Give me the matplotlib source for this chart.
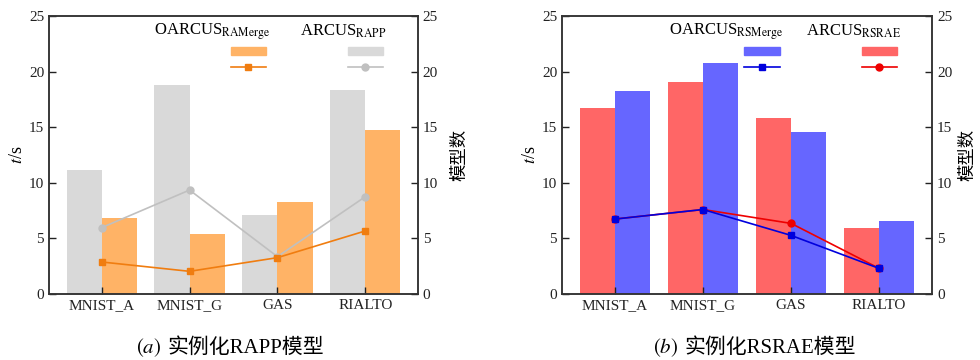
import numpy as np
import matplotlib
matplotlib.use("Agg")
import matplotlib.pyplot as plt
from matplotlib.patches import Rectangle

plt.rcParams['font.family'] = ['Liberation Serif', 'Noto Sans CJK SC']
plt.rcParams['mathtext.fontset'] = 'stix'

# donnees
categories = ["MNIST_A", "MNIST_G", "GAS", "RIALTO"]

# (a) RAPP
temps_arcus_rapp = [11.15, 18.8, 7.1, 18.35]
temps_oarcus_ramerge = [6.8, 5.37, 8.3, 14.75]
modeles_arcus_rapp = [5.97, 9.35, 3.36, 8.75]
modeles_oarcus_ramerge = [2.88, 2.04, 3.27, 5.67]

# (b) RSRAE
temps_arcus_rsrae = [16.7, 19.1, 15.8, 5.9]
temps_oarcus_rsmerge = [18.25, 20.75, 14.55, 6.6]
modeles_arcus_rsrae = [6.74, 7.6, 6.35, 2.3]
modeles_oarcus_rsmerge = [6.74, 7.6, 5.27, 2.3]

fig = plt.figure(figsize=(9.8, 3.6), dpi=100)
spine_col = '#333333'


def panneau(rect, t_arcus, t_oarcus, m_arcus, m_oarcus, c_bar_a, c_bar_o,
            c_line_a, c_line_o, lab_o, lab_a, lettre, caption, cap_x, pad_droite):
    ax = fig.add_axes(rect)
    x = np.arange(len(categories))
    w = 0.4
    ax.bar(x - w / 2, t_arcus, w, color=c_bar_a, zorder=1)
    ax.bar(x + w / 2, t_oarcus, w, color=c_bar_o, zorder=1)
    ax.set_xlim(-0.6, 3.6)
    ax.set_ylim(0, 25)
    ax.set_yticks(np.arange(0, 26, 5))
    ax.set_xticks(x)
    ax.set_xticklabels(categories)
    ax.set_ylabel("$t$/s", fontsize=13, labelpad=2)

    ax2 = ax.twinx()
    ax2.plot(x, m_arcus, color=c_line_a, lw=1.2, marker='o', ms=5)
    ax2.plot(x, m_oarcus, color=c_line_o, lw=1.2, marker='s', ms=4.5)
    ax2.set_ylim(0, 25)
    ax2.set_yticks(np.arange(0, 26, 5))
    ax2.set_ylabel("模型数", fontsize=12.5, labelpad=pad_droite)

    for a in (ax, ax2):
        a.tick_params(direction='in', length=5, width=1, labelsize=11,
                      colors='#222222')
        for s in a.spines.values():
            s.set_color(spine_col)
            s.set_linewidth(1.1)

    # legende faite a la main (texte au-dessus des symboles)
    for x0, col_b, col_l, mk, lab in [(0.493, c_bar_o, c_line_o, 's', lab_o),
                                      (0.810, c_bar_a, c_line_a, 'o', lab_a)]:
        ax2.add_patch(Rectangle((x0, 0.858), 0.095, 0.03, transform=ax2.transAxes,
                                color=col_b, clip_on=False, zorder=5))
        ax2.plot([x0, x0 + 0.095], [0.815, 0.815], transform=ax2.transAxes,
                 color=col_l, lw=1.2, zorder=5)
        ax2.plot([x0 + 0.0475], [0.815], transform=ax2.transAxes, color=col_l,
                 marker=mk, ms=5 if mk == 'o' else 4.5, zorder=5)
        ax2.text(x0 + 0.105, 0.945, lab, transform=ax2.transAxes, ha='right',
                 va='center', fontsize=12)

    # legende sous la figure : lettre en italique + texte chinois
    fig.text(cap_x - 0.003, 0.035, lettre, ha='right', va='center', fontsize=15)
    fig.text(cap_x + 0.003, 0.035, caption, ha='left', va='center', fontsize=15)
    return ax


panneau([0.05, 0.1833, 0.3765, 0.7722],
        temps_arcus_rapp, temps_oarcus_ramerge,
        modeles_arcus_rapp, modeles_oarcus_ramerge,
        '#d9d9d9', '#ffb366', '#c0c0c0', '#f07d10',
        r"OARCUS$_{\mathrm{RAMerge}}$", r"ARCUS$_{\mathrm{RAPP}}$",
        r"$(a)$", "实例化RAPP模型", 0.168, 10)

panneau([0.5735, 0.1833, 0.3776, 0.7722],
        temps_arcus_rsrae, temps_oarcus_rsmerge,
        modeles_arcus_rsrae, modeles_oarcus_rsmerge,
        '#ff6666', '#6666ff', '#ee0000', '#0000dd',
        r"OARCUS$_{\mathrm{RSMerge}}$", r"ARCUS$_{\mathrm{RSRAE}}$",
        r"$(b)$", "实例化RSRAE模型", 0.695, 6)

fig.savefig("out.png", dpi=100)
